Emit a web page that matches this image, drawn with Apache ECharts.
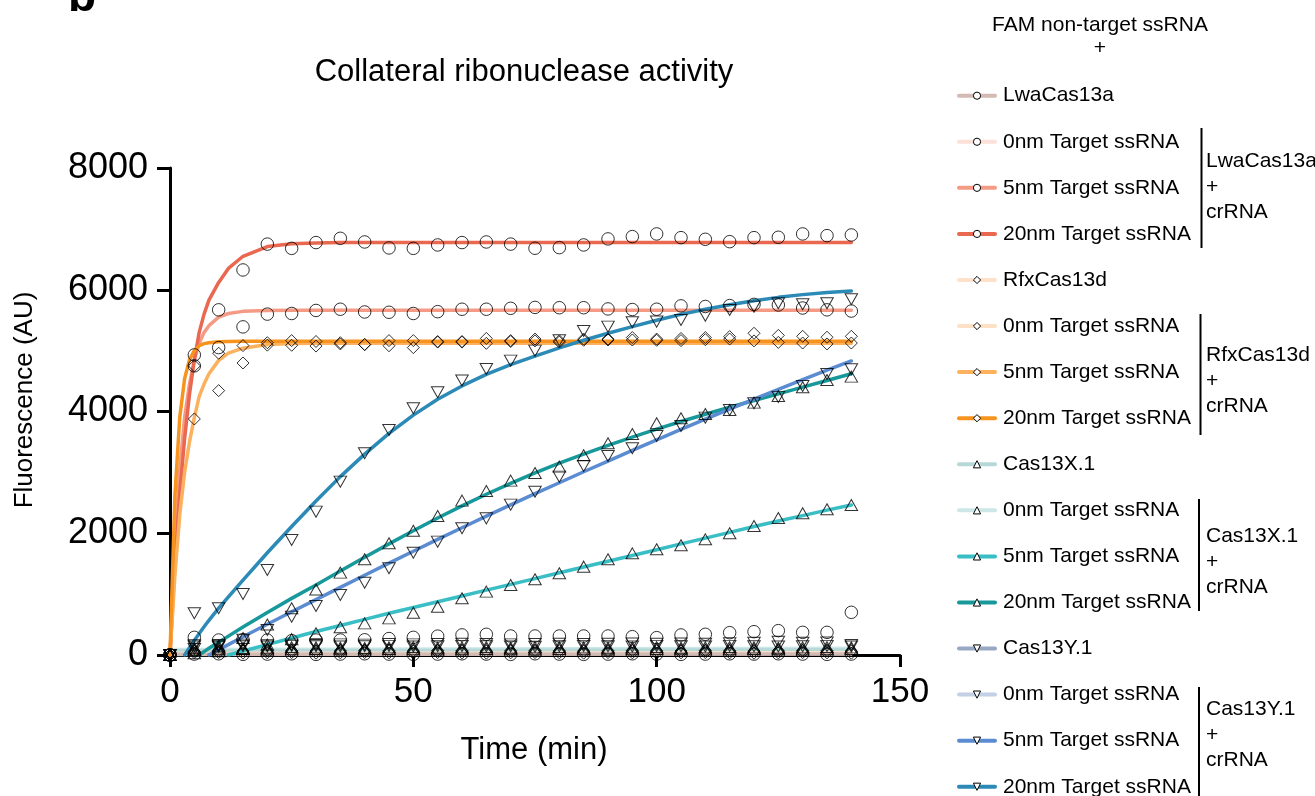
<!DOCTYPE html>
<html><head><meta charset="utf-8">
<script src="https://cdn.jsdelivr.net/npm/echarts@6/dist/echarts.min.js"></script>
<style>html,body{margin:0;padding:0;background:#fff}#c{width:1315px;height:796px}</style>
</head><body><div id="c"></div>
<script>
// ---------- data ----------
const dataTimes = [0,5,10,15,20,25,30,35,40,45,50,55,60,65,70,75,80,85,90,95,100,105,110,115,120,125,130,135,140];
const curveTimes = [0,1,2,3,4,5,6,7,8,10,12,15,20,25,30,35,40,45,50,55,60,65,70,75,80,85,90,95,100,105,110,115,120,125,130,135,140];
const controlTimes = [0,140];
const xTicks = [0,50,100,150];
const yTicks = [0,2000,4000,6000,8000];

// measured points
const lwaAlonePts = [0,15,20,10,15,20,10,15,20,15,10,15,20,15,10,20,15,10,15,20,15,10,15,20,15,20,15,10,15];
const lwa0Pts = [0,290,246,250,246,235,246,246,250,270,290,310,330,340,312,312,312,312,312,301,285,329,340,367,383,400,372,372,701];
const lwa5Pts = [0,4930,5670,5390,5600,5610,5660,5680,5635,5630,5610,5640,5680,5680,5695,5710,5705,5705,5685,5675,5680,5735,5725,5740,5760,5750,5700,5670,5650];
const lwa20Pts = [0,4750,5050,6325,6750,6680,6775,6845,6785,6687,6680,6736,6775,6785,6750,6682,6692,6736,6835,6873,6917,6856,6829,6790,6856,6862,6917,6889,6900];
const rfxAlonePts = [0,35,40,30,35,40,30,35,40,35,30,40,35,30,35,40,35,30,40,35,30,35,40,35,30,35,40,35,30];
const rfx0Pts = [0,60,70,65,75,70,65,70,75,70,65,75,70,65,70,75,70,65,70,75,70,65,75,70,65,70,75,70,65];
const rfx5Pts = [0,3877,4343,4797,5090,5088,5075,5110,5100,5080,5050,5140,5140,5120,5150,5160,5140,5170,5175,5175,5170,5165,5180,5190,5160,5135,5125,5110,5125];
const rfx20Pts = [0,4750,4957,5083,5130,5165,5150,5130,5100,5165,5165,5150,5150,5200,5165,5190,5160,5190,5190,5215,5190,5200,5215,5230,5285,5250,5235,5220,5235];
const xAlonePts = [0,90,95,100,90,95,100,95,90,100,95,90,95,100,95,90,100,95,90,95,100,95,90,95,100,95,90,95,100];
const x0Pts = [0,120,125,115,120,130,125,120,115,125,130,120,125,130,120,125,130,125,120,125,130,120,125,130,125,120,125,130,125];
const x5Pts = [0,30,60,100,170,260,356,455,520,602,695,794,931,1041,1150,1243,1342,1451,1572,1670,1736,1802,1900,1999,2119,2251,2328,2393,2465];
const x20Pts = [0,80,150,280,500,767,1075,1353,1572,1835,2042,2284,2536,2695,2864,2990,3094,3281,3478,3631,3806,3888,3960,4025,4146,4255,4398,4518,4573];
const yAlonePts = [0,140,135,145,140,150,145,140,145,150,140,145,150,145,140,137,145,150,145,140,150,145,140,150,145,140,145,150,140];
const y0Pts = [0,160,165,170,160,170,165,175,170,180,175,180,185,180,175,180,185,180,185,190,185,190,185,192,200,219,200,205,164];
const y5Pts = [0,100,150,250,411,630,805,986,1188,1424,1681,1862,2081,2245,2470,2683,2930,3105,3270,3396,3598,3762,3899,4025,4135,4240,4420,4617,4694];
const y20Pts = [0,685,767,1002,1397,1890,2355,2848,3313,3697,4053,4316,4508,4699,4836,5000,5170,5323,5394,5466,5477,5504,5575,5668,5723,5778,5761,5778,5844];

// fitted curves
const lwaAloneFit = [12,18];
const lwa0Fit = [20,40];
const lwa5Fit = [0,1800,3050,3900,4450,4850,5120,5300,5410,5550,5610,5645,5660,5665,5665,5665,5665,5665,5665,5665,5665,5665,5665,5665,5665,5665,5665,5665,5665,5665,5665,5665,5665,5665,5665,5665,5665];
const lwa20Fit = [0,1500,2650,3550,4280,4850,5300,5600,5830,6120,6350,6550,6710,6755,6770,6775,6775,6775,6775,6775,6775,6775,6775,6775,6775,6775,6775,6775,6775,6775,6775,6775,6775,6775,6775,6775,6775];
const rfxAloneFit = [25,35];
const rfx0Fit = [50,60];
const rfx5Fit = [0,1300,2300,3000,3500,3900,4250,4450,4620,4840,4960,5040,5100,5115,5120,5120,5120,5120,5120,5120,5120,5120,5120,5120,5120,5120,5120,5120,5120,5120,5120,5120,5120,5120,5120,5120,5120];
const rfx20Fit = [0,2600,3900,4540,4850,5000,5080,5115,5130,5145,5150,5155,5155,5155,5155,5155,5155,5155,5155,5155,5155,5155,5155,5155,5155,5155,5155,5155,5155,5155,5155,5155,5155,5155,5155,5155,5155];
const xAloneFit = [70,85];
const x0Fit = [90,110];
const x5Fit = [null,null,null,null,null,null,null,null,null,null,0,65,170,280,385,485,585,685,780,875,970,1065,1160,1255,1350,1445,1540,1635,1730,1825,1920,2015,2110,2200,2290,2380,2465];
const x20Fit = [null,null,null,null,null,null,0,55,110,210,310,460,700,930,1150,1380,1605,1825,2040,2250,2450,2640,2820,2990,3150,3300,3445,3580,3710,3835,3955,4070,4180,4290,4400,4510,4620];
const yAloneFit = [10,20];
const y0Fit = [40,60];
const y5Fit = [null,null,null,null,null,null,null,null,0,85,170,300,505,710,910,1110,1310,1510,1705,1900,2090,2280,2465,2650,2830,3010,3185,3360,3535,3705,3875,4040,4205,4365,4525,4680,4830];
const y20Fit = [null,null,null,0,120,240,355,465,570,770,955,1230,1680,2110,2530,2930,3300,3640,3940,4200,4420,4610,4770,4910,5045,5170,5285,5395,5500,5595,5680,5755,5820,5875,5920,5955,5980];

const legendLabels = ['LwaCas13a','0nm Target ssRNA','5nm Target ssRNA','20nm Target ssRNA',
  'RfxCas13d','0nm Target ssRNA','5nm Target ssRNA','20nm Target ssRNA',
  'Cas13X.1','0nm Target ssRNA','5nm Target ssRNA','20nm Target ssRNA',
  'Cas13Y.1','0nm Target ssRNA','5nm Target ssRNA','20nm Target ssRNA'];

// ---------- styling ----------
const FONT = '"Liberation Sans", Arial, Helvetica, sans-serif';
const DOWN_TRI = 'path://M0,0 L10,0 L5,9 Z';
const UP_TRI = 'path://M5,0 L10,9 L0,9 Z';
const groups = [
  {fitT: controlTimes, fit: lwaAloneFit, pts: lwaAlonePts, color:'#D3BBB4', sym:'circle'},
  {fitT: controlTimes, fit: lwa0Fit, pts: lwa0Pts, color:'#FBE1D7', sym:'circle'},
  {fitT: curveTimes, fit: lwa5Fit, pts: lwa5Pts, color:'#F59B85', sym:'circle'},
  {fitT: curveTimes, fit: lwa20Fit, pts: lwa20Pts, color:'#E9684F', sym:'circle'},
  {fitT: controlTimes, fit: rfxAloneFit, pts: rfxAlonePts, color:'#FCE2CC', sym:'diamond'},
  {fitT: controlTimes, fit: rfx0Fit, pts: rfx0Pts, color:'#FDE1C7', sym:'diamond'},
  {fitT: curveTimes, fit: rfx5Fit, pts: rfx5Pts, color:'#FBB15E', sym:'diamond'},
  {fitT: curveTimes, fit: rfx20Fit, pts: rfx20Pts, color:'#F7941F', sym:'diamond'},
  {fitT: controlTimes, fit: xAloneFit, pts: xAlonePts, color:'#B7D8D8', sym:UP_TRI},
  {fitT: controlTimes, fit: x0Fit, pts: x0Pts, color:'#CDE7E8', sym:UP_TRI},
  {fitT: curveTimes, fit: x5Fit, pts: x5Pts, color:'#38BEC4', sym:UP_TRI},
  {fitT: curveTimes, fit: x20Fit, pts: x20Pts, color:'#17989A', sym:UP_TRI},
  {fitT: controlTimes, fit: yAloneFit, pts: yAlonePts, color:'#98A7C4', sym:DOWN_TRI},
  {fitT: controlTimes, fit: y0Fit, pts: y0Pts, color:'#C4D0E6', sym:DOWN_TRI},
  {fitT: curveTimes, fit: y5Fit, pts: y5Pts, color:'#5B8CD2', sym:DOWN_TRI},
  {fitT: curveTimes, fit: y20Fit, pts: y20Pts, color:'#2C8AB7', sym:DOWN_TRI}
];

const lineSeries = [], pointSeries = [], legendNames = [];
groups.forEach((g, i) => {
  const name = 's' + i + '|' + legendLabels[i];
  legendNames.push(name);
  lineSeries.push({
    name, type:'line', showSymbol:false, symbol:g.sym, symbolSize:12,
    smooth:false, connectNulls:false, z:2,
    lineStyle:{color:g.color, width:3.5, join:'round', cap:'round'},
    itemStyle:{color:g.color},
    emphasis:{disabled:true},
    data: g.fitT.map((t, k) => [t, g.fit[k]])
  });
  pointSeries.push({
    name: 'p' + i, type:'scatter', symbol:g.sym, symbolSize: g.sym === 'circle' ? 12.5 : (g.sym === 'diamond' ? 12 : [12.5, 11]),
    z:3, itemStyle:{color:'rgba(0,0,0,0)', borderColor:'#000', borderWidth:1},
    emphasis:{disabled:true},
    data: dataTimes.map((t, k) => [t, g.pts[k]])
  });
});

// draw control lines first so bright curves stay on top
const ctrlIdx = [1,5,9,13,8,12,4,0];
const order = ctrlIdx.map(i => lineSeries[i]).concat([2,3,6,7,10,11,14,15].map(i => lineSeries[i]));

const txt = (x, y, text, size, extra) => ({type:'text', x, y, silent:true,
  style:Object.assign({text, fill:'#000', fontSize:size, fontFamily:FONT, align:'left', verticalAlign:'middle'}, extra || {})});
const vline = (x, y1, y2) => ({type:'line', silent:true, shape:{x1:x, y1, x2:x, y2}, style:{stroke:'#000', lineWidth:2}});

const chart = echarts.init(document.getElementById('c'), null, {renderer:'canvas'});
chart.setOption({
  animation:false,
  backgroundColor:'#fff',
  grid:{left:170, right:415, top:168, bottom:141, containLabel:false, outerBoundsMode:'none'},
  xAxis:{type:'value', min:xTicks[0], max:xTicks[xTicks.length-1], interval:xTicks[1]-xTicks[0],
    splitLine:{show:false},
    axisLine:{show:true, onZero:false, lineStyle:{color:'#000', width:3}},
    axisTick:{show:true, inside:false, length:12, lineStyle:{color:'#000', width:3}},
    axisLabel:{color:'#000', fontSize:35, fontFamily:FONT, margin:20, formatter:v => String(v)}},
  yAxis:{type:'value', min:yTicks[0], max:yTicks[yTicks.length-1], interval:yTicks[1]-yTicks[0],
    splitLine:{show:false},
    axisLine:{show:true, onZero:false, lineStyle:{color:'#000', width:3}},
    axisTick:{show:true, inside:false, length:13, lineStyle:{color:'#000', width:3}},
    axisLabel:{color:'#000', fontSize:36, fontFamily:FONT, margin:22, formatter:v => String(v)}},
  legend:{show:true, orient:'vertical', left:957, top:83.7, height:740, padding:0,
    itemWidth:36, itemHeight:9, itemGap:22.07, selectedMode:false,
    data:legendNames, formatter:n => n.split('|')[1],
    textStyle:{fontSize:21, color:'#000', fontFamily:FONT, lineHeight:24, padding:[0,0,0,3]},
    itemStyle:{color:'#fff', borderColor:'#000', borderWidth:1},
    lineStyle:{width:4}},
  graphic:[
    txt(68, 21, 'b', 46, {fontWeight:'bold', verticalAlign:'bottom'}),
    txt(524, 72, 'Collateral ribonuclease activity', 31, {align:'center'}),
    Object.assign(txt(25, 400, 'Fluorescence (AU)', 26, {align:'center'}), {rotation:Math.PI/2}),
    txt(534, 750, 'Time (min)', 31, {align:'center'}),
    txt(1100, 36.5, 'FAM non-target ssRNA\n+', 21, {align:'center', lineHeight:23}),
    vline(1201.5, 128, 248),
    txt(1206, 187, 'LwaCas13a\n+\ncrRNA', 21, {lineHeight:25.5}),
    vline(1200.5, 314, 435),
    txt(1206, 381, 'RfxCas13d\n+\ncrRNA', 21, {lineHeight:25.5}),
    vline(1199, 499, 611),
    txt(1206, 562, 'Cas13X.1\n+\ncrRNA', 21, {lineHeight:25.5}),
    vline(1199, 687, 800),
    txt(1206, 735, 'Cas13Y.1\n+\ncrRNA', 21, {lineHeight:25.5})
  ],
  series: order.concat(pointSeries)
});
</script></body></html>
